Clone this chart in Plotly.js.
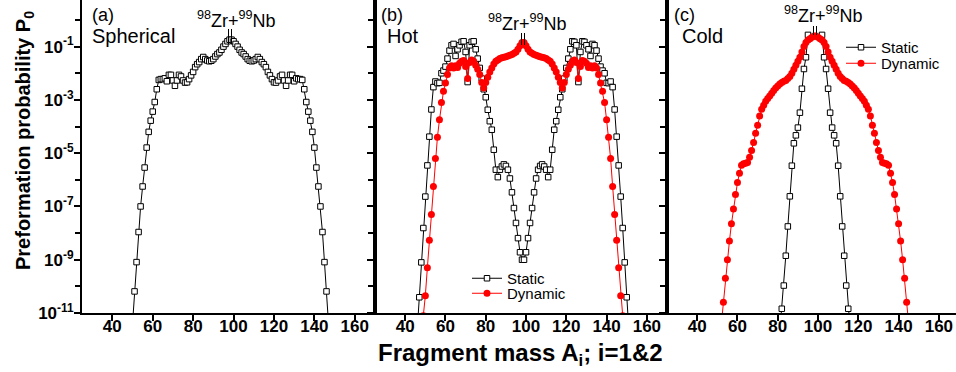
<!DOCTYPE html>
<html><head><meta charset="utf-8">
<script src="https://cdn.plot.ly/plotly-3.0.1.min.js"></script>
<style>html,body{margin:0;padding:0;overflow:hidden;background:#fff}#chart{width:960px;height:372px}</style>
</head><body><div id="chart"></div>
<script>
// ---------------- data (log10 of preformation probability P0) ----------------
const massA_spherical = [50,51,52,53,54,55,56,57,58,59,60,61,62,63,64,65,66,67,68,69,70,71,72,73,74,75,76,77,78,79,80,81,82,83,84,85,86,87,88,89,90,91,92,93,94,95,96,97,98,
 99,100,101,102,103,104,105,106,107,108,109,110,111,112,113,114,115,116,117,118,119,120,121,122,123,124,125,126,127,128,129,130,131,132,133,134,135,136,137,138,139,140,141,142,143,144,145,146,147];
const log10P_spherical = [-11.4,-10.19,-9.09,-7.96,-7.0,-6.25,-5.54,-4.79,-4.2,-3.78,-3.44,-3.08,-2.6,-2.25,-2.22,-2.22,-2.19,-2.3,-2.06,-2.06,-2.27,-2.47,-2.27,-2.06,-2.12,-2.27,-2.35,-2.34,-2.22,-2.08,-1.95,-1.77,-1.66,-1.58,-1.47,-1.39,-1.47,-1.52,-1.55,-1.53,-1.47,-1.37,-1.28,-1.22,-1.12,-1.0,-0.9,-0.8,-0.74,
 -0.74,-0.8,-0.9,-1.0,-1.12,-1.22,-1.28,-1.37,-1.47,-1.53,-1.55,-1.52,-1.47,-1.39,-1.47,-1.58,-1.66,-1.77,-1.95,-2.08,-2.22,-2.34,-2.35,-2.27,-2.12,-2.06,-2.27,-2.47,-2.27,-2.06,-2.06,-2.3,-2.19,-2.22,-2.22,-2.25,-2.6,-3.08,-3.44,-3.78,-4.2,-4.79,-5.54,-6.25,-7.0,-7.96,-9.09,-10.19,-11.4];

const massA_hotStatic = [46,47,48,49,50,51,52,53,54,55,56,57,58,59,60,61,62,63,64,65,66,67,68,69,70,71,72,73,74,75,76,77,78,79,80,81,82,83,84,85,86,87,88,89,90,91,92,93,94,95,96,97,98,
 99,100,101,102,103,104,105,106,107,108,109,110,111,112,113,114,115,116,117,118,119,120,121,122,123,124,125,126,127,128,129,130,131,132,133,134,135,136,137,138,139,140,141,142,143,144,145,146,147,148,149,150,151];
const log10P_hotStatic = [-11.6,-10.41,-9.1,-7.81,-6.63,-5.46,-4.38,-3.36,-2.52,-2.31,-2.37,-2.36,-2.0,-1.9,-1.75,-1.45,-1.15,-0.95,-0.9,-1.35,-1.1,-0.95,-0.82,-0.8,-1.2,-2.33,-0.95,-0.82,-0.8,-1.1,-1.45,-1.8,-2.2,-2.6,-2.9,-3.37,-3.8,-4.12,-4.87,-5.62,-5.9,-5.62,-5.5,-5.42,-5.48,-5.62,-5.95,-6.47,-7.06,-7.62,-8.19,-8.72,-9.0,
 -9.0,-8.72,-8.19,-7.62,-7.06,-6.47,-5.95,-5.62,-5.48,-5.42,-5.5,-5.62,-5.9,-5.62,-4.87,-4.12,-3.8,-3.37,-2.9,-2.6,-2.2,-1.8,-1.45,-1.1,-0.8,-0.82,-0.95,-2.33,-1.2,-0.8,-0.82,-0.95,-1.1,-1.35,-0.9,-0.95,-1.15,-1.45,-1.75,-1.9,-2.0,-2.36,-2.37,-2.31,-2.52,-3.36,-4.38,-5.46,-6.63,-7.81,-9.1,-10.41,-11.6];

const massA_hotDynamic = [49,50,51,52,53,54,55,56,57,58,59,60,61,62,63,64,65,66,67,68,69,70,71,72,73,74,75,76,77,78,79,80,81,82,83,84,85,86,87,88,89,90,91,92,93,94,95,96,97,98,
 99,100,101,102,103,104,105,106,107,108,109,110,111,112,113,114,115,116,117,118,119,120,121,122,123,124,125,126,127,128,129,130,131,132,133,134,135,136,137,138,139,140,141,142,143,144,145,146,147,148];
const log10P_hotDynamic = [-11.1,-10.35,-9.3,-8.27,-7.3,-6.25,-5.2,-4.4,-3.75,-3.1,-2.68,-2.37,-2.05,-1.8,-1.72,-1.8,-1.72,-1.78,-1.62,-1.55,-1.52,-1.75,-2.2,-1.6,-1.5,-1.55,-1.7,-1.85,-2.05,-2.35,-2.55,-2.35,-2.15,-1.95,-1.8,-1.65,-1.55,-1.5,-1.45,-1.42,-1.4,-1.38,-1.35,-1.32,-1.3,-1.25,-1.2,-1.1,-0.97,-0.85,
 -0.85,-0.97,-1.1,-1.2,-1.25,-1.3,-1.32,-1.35,-1.38,-1.4,-1.42,-1.45,-1.5,-1.55,-1.65,-1.8,-1.95,-2.15,-2.35,-2.55,-2.35,-2.05,-1.85,-1.7,-1.55,-1.5,-1.6,-2.2,-1.75,-1.52,-1.55,-1.62,-1.78,-1.72,-1.8,-1.72,-1.8,-2.05,-2.37,-2.68,-3.1,-3.75,-4.4,-5.2,-6.25,-7.3,-8.27,-9.3,-10.35,-11.1];

const massA_coldStatic = [81,82,83,84,85,86,87,88,89,90,91,92,93,94,95,102,103,104,105,106,107,108,109,110,111,112,113,114,115,116];
const log10P_coldStatic = [-11.7,-10.84,-9.97,-8.85,-7.75,-6.62,-5.47,-4.63,-4.33,-4.04,-3.48,-2.58,-1.84,-1.4,-0.56,
 -0.56,-1.4,-1.84,-2.58,-3.48,-4.04,-4.33,-4.63,-5.47,-6.62,-7.75,-8.85,-9.97,-10.84,-11.7];

const massA_coldDynamic = [52,53,54,55,56,57,58,59,60,61,62,63,64,65,66,67,68,69,70,71,72,73,74,75,76,77,78,79,80,81,82,83,84,85,86,87,88,89,90,91,92,93,94,95,96,97,98,
 99,100,101,102,103,104,105,106,107,108,109,110,111,112,113,114,115,116,117,118,119,120,121,122,123,124,125,126,127,128,129,130,131,132,133,134,135,136,137,138,139,140,141,142,143,144,145];
const log10P_coldDynamic = [-11.4,-10.6,-9.7,-9.0,-8.3,-7.65,-7.1,-6.55,-6.1,-5.75,-5.45,-5.4,-5.38,-5.35,-5.15,-4.9,-4.6,-4.25,-3.95,-3.6,-3.35,-3.2,-3.05,-2.95,-2.85,-2.75,-2.65,-2.55,-2.48,-2.4,-2.35,-2.3,-2.27,-2.2,-2.12,-2.0,-1.85,-1.7,-1.55,-1.4,-1.2,-1.0,-0.85,-0.75,-0.7,-0.65,-0.6,
 -0.6,-0.65,-0.7,-0.75,-0.85,-1.0,-1.2,-1.4,-1.55,-1.7,-1.85,-2.0,-2.12,-2.2,-2.27,-2.3,-2.35,-2.4,-2.48,-2.55,-2.65,-2.75,-2.85,-2.95,-3.05,-3.2,-3.35,-3.6,-3.95,-4.25,-4.6,-4.9,-5.15,-5.35,-5.38,-5.4,-5.45,-5.75,-6.1,-6.55,-7.1,-7.65,-8.3,-9.0,-9.7,-10.6,-11.4];

const yTickVals = [1e-11,1e-9,1e-7,1e-5,1e-3,1e-1];
const yTickText = ['10<sup>-11</sup>','10<sup>-9</sup>','10<sup>-7</sup>','10<sup>-5</sup>','10<sup>-3</sup>','10<sup>-1</sup>'];
const yMinorVals = [1e-10,1e-8,1e-6,1e-4,1e-2,1];
const seriesNames = ['Static','Dynamic'];
const panelLabels = ['(a)','(b)','(c)'];
const panelNames = ['Spherical','Hot','Cold'];
const reactionLabel = '<sup>98</sup>Zr+<sup>99</sup>Nb';

// ---------------- drawing ----------------
const toP = arr => arr.map(v => Math.pow(10, v));
const FONT = 'Arial, "Liberation Sans", sans-serif';
const staticStyle = {mode:'lines+markers', line:{color:'#000', width:1},
  marker:{symbol:'square', size:5.5, color:'#fff', line:{color:'#000', width:1}}};
const dynStyle = {mode:'lines+markers', line:{color:'#ff0000', width:1},
  marker:{symbol:'circle', size:7, color:'#ff0000', line:{width:0}}};

const traces = [
  Object.assign({x:massA_spherical, y:toP(log10P_spherical), xaxis:'x', yaxis:'y', name:seriesNames[0], showlegend:false}, staticStyle),
  Object.assign({x:massA_hotStatic, y:toP(log10P_hotStatic), xaxis:'x2', yaxis:'y2', name:seriesNames[0], legend:'legend'}, staticStyle),
  Object.assign({x:massA_hotDynamic, y:toP(log10P_hotDynamic), xaxis:'x2', yaxis:'y2', name:seriesNames[1], legend:'legend2'}, dynStyle),
  Object.assign({x:massA_coldStatic, y:toP(log10P_coldStatic), xaxis:'x3', yaxis:'y3', name:seriesNames[0], legend:'legend3'}, staticStyle),
  Object.assign({x:massA_coldDynamic, y:toP(log10P_coldDynamic), xaxis:'x3', yaxis:'y3', name:seriesNames[1], legend:'legend4'}, dynStyle)
];

const W = 877, H = 313, L = 82;
const px = v => (v - L) / W;   // pixel -> paper x
const py = v => (H - v) / H;   // pixel -> paper y

function xax(dom, anchor){
  return {domain:dom, anchor:anchor, range:[25,170], tick0:0, dtick:20, ticks:'outside', ticklen:6, tickwidth:2,
    tickcolor:'#000', showline:true, linewidth:2, linecolor:'#000', mirror:true, showgrid:false, zeroline:false,
    ticklabelstandoff:-9,
    tickfont:{family:FONT, size:17, weight:'bold', color:'#000'}};
}
function yax(anchor, labels){
  return {type:'log', anchor:anchor, domain:[0,1], range:[-11,0.75], tickmode:'array', tickvals:yTickVals, ticktext:yTickText,
    ticks:'outside', ticklen:6, tickwidth:2, tickcolor:'#000', showline:true, linewidth:2, linecolor:'#000', mirror:true,
    minor:{tickmode:'array', tickvals:yMinorVals, ticks:'outside', ticklen:5, tickwidth:2, tickcolor:'#000', showgrid:false},
    showgrid:false, zeroline:false, showticklabels:labels, ticklabelstandoff:-3,
    tickfont:{family:FONT, size:17, weight:'bold', color:'#000'}};
}

const annotations = [];
const labelX = [[90,90],[379,385],[672,680]];
for (let i=0;i<3;i++){
  annotations.push({text:panelLabels[i], xref:'paper', yref:'paper', x:px(labelX[i][0]), y:py(15), xanchor:'left', yanchor:'middle', showarrow:false, font:{family:FONT, size:18, color:'#000'}});
  annotations.push({text:panelNames[i], xref:'paper', yref:'paper', x:px(labelX[i][1]), y:py(36), xanchor:'left', yanchor:'middle', showarrow:false, font:{family:FONT, size:20, color:'#000'}});
}
const reacPos = [[236,19],[527,23],[823,15]];
reacPos.forEach(p => annotations.push({text:reactionLabel, xref:'paper', yref:'paper', x:px(p[0]), y:py(p[1]), xanchor:'center', yanchor:'middle', showarrow:false, font:{family:FONT, size:18, color:'#000'}}));
annotations.push({text:'Preformation probability P<sub>0</sub>', xref:'paper', yref:'paper', x:px(24), y:py(141), textangle:-90,
  xanchor:'center', yanchor:'middle', showarrow:false, font:{family:FONT, size:20, weight:'bold', color:'#000'}});
annotations.push({text:'Fragment mass A<sub>i</sub>; i=1&amp;2', xref:'paper', yref:'paper', x:px(520), y:py(354),
  xanchor:'center', yanchor:'middle', showarrow:false, font:{family:FONT, size:24, weight:'bold', color:'#000'}});

const shapes = [];
const bars = [[228.5,231.5,29,44],[521.5,524.5,33,45],[813.5,816.5,26,35]];
bars.forEach(b => {
  shapes.push({type:'line', xref:'paper', yref:'paper', x0:px(b[0]), x1:px(b[0]), y0:py(b[2]), y1:py(b[3]), line:{color:'#000', width:1}});
  shapes.push({type:'line', xref:'paper', yref:'paper', x0:px(b[1]), x1:px(b[1]), y0:py(b[2]), y1:py(b[3]), line:{color:'#000', width:1}});
});

const legFont = {family:FONT, size:15, color:'#000'};
const leg = (xp, yp) => ({x:px(xp), y:py(yp), xanchor:'left', yanchor:'top', bgcolor:'rgba(0,0,0,0)', font:legFont, tracegroupgap:0, itemwidth:30});
const layout = {
  width:960, height:372, margin:{l:L, r:1, t:0, b:59}, paper_bgcolor:'#fff', plot_bgcolor:'#fff',
  font:{family:FONT, color:'#000'},
  xaxis: xax([0, 293/W], 'y'), xaxis2: xax([293/W, 585/W], 'y2'), xaxis3: xax([585/W, 1], 'y3'),
  yaxis: yax('x', true), yaxis2: yax('x2', false), yaxis3: yax('x3', false),
  legend: leg(467, 262), legend2: leg(467, 277),
  legend3: leg(841, 31), legend4: leg(841, 47),
  annotations:annotations, shapes:shapes, showlegend:true
};
Plotly.newPlot('chart', traces, layout, {staticPlot:true, displayModeBar:false});
</script></body></html>
